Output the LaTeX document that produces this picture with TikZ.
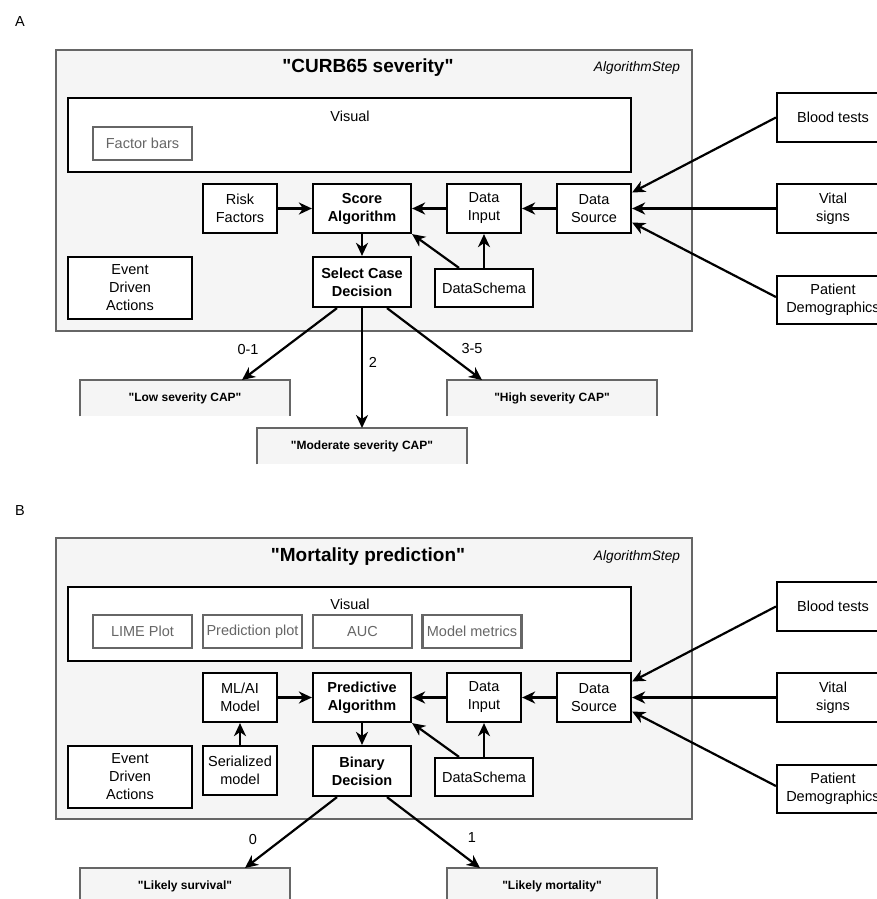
\documentclass[tikz,border=0pt]{standalone}
\usepackage{fontspec}
\setmainfont{Liberation Sans}
\usetikzlibrary{arrows.meta,calc}
\definecolor{panelgray}{HTML}{F5F5F5}
\definecolor{edgegray}{HTML}{666666}
\newcommand{\qq}{\textquotedbl}
\begin{document}
\begin{tikzpicture}[x=1pt,y=-1pt,
  every node/.style={font=\fontsize{14.5}{18}\selectfont, inner sep=0pt, align=center},
  panel/.style={draw=edgegray, fill=panelgray, line width=2.2pt},
  blk/.style={draw=black, fill=white, line width=2.2pt, minimum height=49pt},
  bblk/.style={blk, font=\fontsize{14.5}{18}\selectfont\bfseries},
  subbox/.style={draw=edgegray, text=edgegray, fill=white, line width=2.2pt, minimum width=99pt, minimum height=33pt},
  outbox/.style={fill=panelgray, minimum width=209pt, minimum height=36pt, anchor=north, font=\fontsize{12}{14}\selectfont\bfseries},
  outline/.style={draw=edgegray, line width=2.2pt},
  conn/.style={line width=2.2pt, -{Stealth[length=13pt,width=12pt,inset=4pt]}},
  titletext/.style={font=\fontsize{19}{22}\selectfont\bfseries},
  kindtext/.style={font=\fontsize{13.7}{16}\selectfont\itshape},
  elabel/.style={font=\fontsize{14.5}{17}\selectfont}
]
\useasboundingbox (0,0) rectangle (877,899);

% ---------------- Panel A ----------------
\node (labA) at (20,22) {A};
\node[panel, minimum width=636pt, minimum height=281pt] (stepA) at (374,190.5) {};
\node[titletext] (titleA) at (368,68) {\qq CURB65 severity\qq};
\node[kindtext] (kindA) at (637,68) {AlgorithmStep};
\node[blk, minimum width=563pt, minimum height=74pt] (visA) at (349.5,135) {};
\node (vislabA) at (350,116) {Visual};
\node[subbox] (factor) at (142.5,143.5) {Factor bars};
\node[blk, minimum width=74pt] (risk) at (240,208.5) {Risk\\Factors};
\node[bblk, minimum width=98pt] (scoreA) at (362,208.5) {Score\\Algorithm};
\node[bblk, minimum width=98pt, minimum height=50pt] (selectA) at (362,282) {Select Case\\Decision};
\node[blk, minimum width=124pt, minimum height=62pt] (eventA) at (130,288) {Event\\Driven\\Actions};
\node[blk, minimum width=74pt] (dinA) at (484,208.5) {Data\\Input};
\node[blk, minimum width=74pt] (dsrcA) at (594,208.5) {Data\\Source};
\node[blk, minimum width=98pt, minimum height=38pt] (schemaA) at (484,288) {DataSchema};
\node[blk, minimum width=112pt] (bloodA) at (833,117.5) {Blood tests};
\node[blk, minimum width=112pt] (vitalA) at (833,208.5) {Vital\\signs};
\node[blk, minimum width=112pt, minimum height=48pt] (patA) at (833,300) {Patient\\Demographics};

\node[outbox] (lowA) at (185,380) {\qq Low severity CAP\qq};
\draw[outline] (lowA.south west) -- (lowA.north west) -- (lowA.north east) -- (lowA.south east);
\node[outbox] (modA) at (362,428) {\qq Moderate severity CAP\qq};
\draw[outline] (modA.south west) -- (modA.north west) -- (modA.north east) -- (modA.south east);
\node[outbox] (highA) at (552,380) {\qq High severity CAP\qq};
\draw[outline] (highA.south west) -- (highA.north west) -- (highA.north east) -- (highA.south east);

\draw[conn] (bloodA.west) -- ([yshift=16pt]dsrcA.east);
\draw[conn] (vitalA.west) -- (dsrcA.east);
\draw[conn] ([yshift=3pt]patA.west) -- ([yshift=-14pt]dsrcA.east);
\draw[conn] (dsrcA.west) -- (dinA.east);
\draw[conn] (dinA.west) -- (scoreA.east);
\draw[conn] (risk.east) -- (scoreA.west);
\draw[conn] (scoreA.south) -- (selectA.north);
\draw[conn] (schemaA.north) -- (dinA.south);
\draw[conn] ([xshift=-25pt]schemaA.north) -- (scoreA.south east);
\draw[conn] ([xshift=-25pt]selectA.south) -- ([xshift=57pt]lowA.north);
\draw[conn] (selectA.south) -- (modA.north);
\draw[conn] ([xshift=25pt]selectA.south) -- ([xshift=-70pt]highA.north);
\node[elabel] (e01) at (248,350) {0-1};
\node[elabel] (e2) at (373,362) {2};
\node[elabel] (e35) at (472,349) {3-5};

% ---------------- Panel B ----------------
\node (labB) at (20,511) {B};
\node[panel, minimum width=636pt, minimum height=281pt] (stepB) at (374,678.5) {};
\node[titletext] (titleB) at (368,557) {\qq Mortality prediction\qq};
\node[kindtext] (kindB) at (637,557) {AlgorithmStep};
\node[blk, minimum width=563pt, minimum height=74pt] (visB) at (349.5,624) {};
\node (vislabB) at (350,604) {Visual};
\node[subbox] (lime) at (142.5,631.5) {LIME Plot};
\node[subbox] (predplot) at (252.5,631.5) {Prediction plot};
\node[subbox] (auc) at (362.5,631.5) {AUC};
\node[subbox] (metrics) at (472,631.5) {Model metrics};
\node[blk, minimum width=74pt] (mlai) at (240,697.5) {ML/AI\\Model};
\node[bblk, minimum width=98pt] (predB) at (362,697.5) {Predictive\\Algorithm};
\node[blk, minimum width=74pt] (serial) at (240,770.5) {Serialized\\model};
\node[bblk, minimum width=98pt, minimum height=50pt] (binary) at (362,771) {Binary\\Decision};
\node[blk, minimum width=124pt, minimum height=62pt] (eventB) at (130,777) {Event\\Driven\\Actions};
\node[blk, minimum width=74pt] (dinB) at (484,697.5) {Data\\Input};
\node[blk, minimum width=74pt] (dsrcB) at (594,697.5) {Data\\Source};
\node[blk, minimum width=98pt, minimum height=38pt] (schemaB) at (484,777) {DataSchema};
\node[blk, minimum width=112pt] (bloodB) at (833,606.5) {Blood tests};
\node[blk, minimum width=112pt] (vitalB) at (833,697.5) {Vital\\signs};
\node[blk, minimum width=112pt, minimum height=48pt] (patB) at (833,789) {Patient\\Demographics};

\node[outbox] (surv) at (185,868) {\qq Likely survival\qq};
\draw[outline] (surv.south west) -- (surv.north west) -- (surv.north east) -- (surv.south east);
\node[outbox] (mort) at (552,868) {\qq Likely mortality\qq};
\draw[outline] (mort.south west) -- (mort.north west) -- (mort.north east) -- (mort.south east);

\draw[conn] (bloodB.west) -- ([yshift=16pt]dsrcB.east);
\draw[conn] (vitalB.west) -- (dsrcB.east);
\draw[conn] ([yshift=3pt]patB.west) -- ([yshift=-14pt]dsrcB.east);
\draw[conn] (dsrcB.west) -- (dinB.east);
\draw[conn] (dinB.west) -- (predB.east);
\draw[conn] (mlai.east) -- (predB.west);
\draw[conn] (serial.north) -- (mlai.south);
\draw[conn] (predB.south) -- (binary.north);
\draw[conn] (schemaB.north) -- (dinB.south);
\draw[conn] ([xshift=-25pt]schemaB.north) -- (predB.south east);
\draw[conn] ([xshift=-25pt]binary.south) -- ([xshift=60pt]surv.north);
\draw[conn] ([xshift=25pt]binary.south) -- ([xshift=-72pt]mort.north);
\node[elabel] (e0) at (253,839) {0};
\node[elabel] (e1) at (472,838) {1};
\end{tikzpicture}
\end{document}
